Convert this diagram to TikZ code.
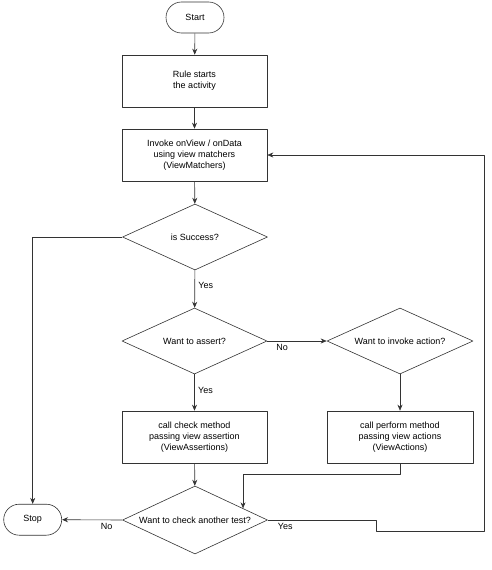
\documentclass[tikz,border=0pt]{standalone}
\usepackage{fontspec}
\setmainfont{Liberation Sans}
\usetikzlibrary{shapes.geometric,shapes.misc,arrows.meta,calc}
\begin{document}
\begin{tikzpicture}[x=1pt,y=1pt,font=\fontsize{9}{10.8}\selectfont, line join=round, >={Stealth[length=6pt,width=5pt]},
    khoi/.style={rectangle,draw=black!80,line width=.6pt,minimum width=145pt,minimum height=52pt,align=center,inner sep=1pt},
    thoi/.style={diamond,aspect=2.2,draw=black!80,line width=.6pt,minimum width=145pt,minimum height=66pt,inner sep=0pt,align=center},
    diemcuoi/.style={rounded rectangle,draw=black!80,line width=.6pt,minimum width=60pt,minimum height=31pt,inner sep=1pt},
    noi/.style={->,draw=black!80,line width=.6pt}]
                %%Khung hình
                \useasboundingbox (0,0) rectangle (491,-570);
                %%Các khối
                \node[diemcuoi] (start) at (195,-17.5) {Start};
                \node[khoi] (rule) at (194.5,-81) {Rule starts\\ the activity};
                \node[khoi] (invoke) at (194.5,-155) {Invoke onView / onData\\using view matchers\\ (ViewMatchers)};
                \node[thoi] (success) at (195,-237) {is Success?};
                \node[thoi] (assert) at (194.5,-341) {Want to assert?};
                \node[thoi,minimum width=146pt] (action) at (400,-341) {Want to invoke action?};
                \node[khoi] (check) at (194.5,-437) {call check method\\passing view assertion\\(ViewAssertions)};
                \node[khoi,minimum width=146pt] (perform) at (400,-437) {call perform method\\passing view actions\\(ViewActions)};
                \node[thoi,minimum height=68pt] (another) at (195,-520) {Want to check another test?};
                \node[diemcuoi] (stop) at (32.7,-519.7) {Stop};
                \coordinate (vao) at ($(another.north)!.66!(another.east)$);
                %%Các mũi tên
                \draw[noi] (start) -- (rule);
                \draw[noi] (rule) -- (invoke);
                \draw[noi] (invoke) -- (success);
                \draw[noi] (success.west) -| (stop.north);
                \draw[noi] (success) -- node[pos=.4,right]{Yes} (assert);
                \draw[noi] (assert) -- node[pos=.25,below]{No} (action);
                \draw[noi] (assert) -- node[pos=.43,right]{Yes} (check);
                \draw[noi] (action) -- (perform);
                \draw[noi] (check) -- (another);
                \draw[noi] (perform.south) -- ++(0,-11) -| (vao);
                \draw[noi] (another.west) -- node[pos=.26,below]{No} (stop.east);
                \draw[noi] (another.east) -- node[pos=.16,below]{Yes} ++(108.5,0) -- ++(0,-11) -- ++(108,0) |- (invoke.east);
\end{tikzpicture}
\end{document}
